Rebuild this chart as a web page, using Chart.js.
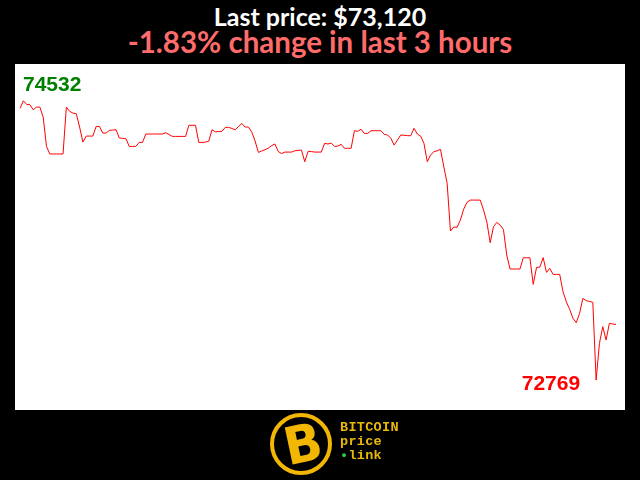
<!DOCTYPE html>
<html>
<head>
<meta charset="utf-8">
<script src="https://cdn.jsdelivr.net/npm/chart.js@4"></script>
<style>
  html, body { margin:0; padding:0; background:#000; width:640px; height:480px; overflow:hidden; }
  #t1, #t2 { position:absolute; left:0; width:640px; text-align:center; font-family:Lato, "Open Sans", sans-serif; font-weight:bold; white-space:nowrap; }
  #t1 { top:1px; font-size:25px; line-height:30px; color:#fff; }
  #t2 { top:24px; font-size:29.5px; line-height:36px; color:#ff6b6b; }
  #wrap { position:absolute; left:15px; top:64px; width:610px; height:346px; background:#fff; }
  #logo { position:absolute; left:270px; top:413px; width:62px; height:62px; }
  #ring { position:absolute; left:0; top:0; width:54px; height:54px; border:4px solid #f2b705; border-radius:50%; background:#000; }
  #bsym { position:absolute; left:2px; top:0; width:62px; height:62px; text-align:center; line-height:62px; font-family:"DejaVu Sans", sans-serif; font-weight:bold; font-size:52px; color:#f2b705; transform:rotate(-12deg) scaleX(0.95); }
  .bar { position:absolute; width:4px; height:7px; background:#f2b705; }
  #ltxt { position:absolute; left:340px; top:421px; font-family:"Liberation Mono", "DejaVu Sans Mono", monospace; font-weight:bold; font-size:13.5px; line-height:14px; color:#eab80a; letter-spacing:0.3px; }
  #ltxt .dot { color:#2ecc40; }
</style>
</head>
<body>
<div id="t1"></div>
<div id="t2"></div>
<div id="wrap"><canvas id="c" width="610" height="346"></canvas></div>
<div id="logo"><div id="ring"></div><div id="bsym">B</div></div>
<div id="ltxt">BITCOIN<br>price<br><span class="dot">&#8226;</span>link</div>
<script>
// One price per minute over the last 3 hours (181 readings)
const minutes = Array.from({length: 181}, (_, i) => i);
const prices = [
  74483, 74532, 74509, 74507, 74475, 74492, 74492, 74429, 74244, 74196,
  74196, 74196, 74196, 74196, 74492, 74465, 74454, 74450, 74366, 74271,
  74309, 74309, 74309, 74370, 74370, 74328, 74328, 74345, 74347, 74349,
  74297, 74295, 74292, 74244, 74244, 74244, 74269, 74269, 74322, 74322,
  74322, 74322, 74322, 74322, 74330, 74319, 74307, 74307, 74307, 74307,
  74307, 74377, 74377, 74377, 74269, 74269, 74271, 74276, 74349, 74336,
  74338, 74339, 74364, 74364, 74357, 74349, 74369, 74389, 74366, 74366,
  74334, 74278, 74206, 74215, 74223, 74233, 74249, 74259, 74211, 74199,
  74208, 74208, 74208, 74216, 74219, 74221, 74147, 74213, 74211, 74208,
  74208, 74208, 74263, 74259, 74265, 74244, 74246, 74257, 74232, 74232,
  74232, 74343, 74339, 74352, 74326, 74326, 74343, 74343, 74343, 74343,
  74320, 74316, 74295, 74252, 74284, 74316, 74314, 74312, 74311, 74358,
  74322, 74309, 74263, 74147, 74189, 74211, 74216, 74225, 74115, 74011,
  73710, 73735, 73733, 73779, 73848, 73891, 73905, 73905, 73905, 73905,
  73842, 73766, 73636, 73737, 73764, 73747, 73720, 73558, 73470, 73470,
  73470, 73470, 73541, 73541, 73541, 73373, 73480, 73482, 73542, 73449,
  73474, 73436, 73436, 73436, 73326, 73263, 73215, 73159, 73131, 73190,
  73285, 73270, 73265, 73260, 72769, 73001, 73106, 73022, 73127, 73123,
  73120
];
const yMin = 72580;
const yMax = 74764;

const last = prices[prices.length - 1];
const first = prices[0];
const change = (last - first) / first * 100;
document.getElementById('t1').textContent = 'Last price: $' + last.toLocaleString('en-US');
document.getElementById('t2').textContent = change.toFixed(2) + '% change in last 3 hours';

const maxV = Math.max(...prices), minV = Math.min(...prices);
const minIdx = prices.indexOf(minV);

const labelPlugin = {
  id: 'extremes',
  afterDatasetsDraw(chart) {
    const ctx = chart.ctx;
    const xs = chart.scales.x, ys = chart.scales.y;
    ctx.save();
    ctx.font = 'bold 21px "Liberation Sans", Arial, sans-serif';
    ctx.textBaseline = 'alphabetic';
    ctx.fillStyle = '#008000';
    ctx.textAlign = 'left';
    ctx.fillText(String(maxV), 8, 27);
    ctx.fillStyle = '#ff0000';
    ctx.textAlign = 'right';
    ctx.fillText(String(minV), xs.getPixelForValue(minIdx) - 16, ys.getPixelForValue(minV) + 10);
    ctx.restore();
  }
};

new Chart(document.getElementById('c'), {
  type: 'line',
  data: {
    labels: minutes,
    datasets: [{
      data: prices,
      borderColor: '#ff0000',
      borderWidth: 1,
      pointRadius: 0,
      tension: 0,
      fill: false
    }]
  },
  options: {
    responsive: false,
    animation: false,
    events: [],
    layout: { padding: { left: 5, right: 9, top: 0, bottom: 0 } },
    plugins: { legend: { display: false }, tooltip: { enabled: false }, title: { display: false } },
    scales: {
      x: { type: 'category', display: false, offset: false },
      y: { display: false, min: yMin, max: yMax }
    }
  },
  plugins: [labelPlugin]
});
</script>
</body>
</html>
